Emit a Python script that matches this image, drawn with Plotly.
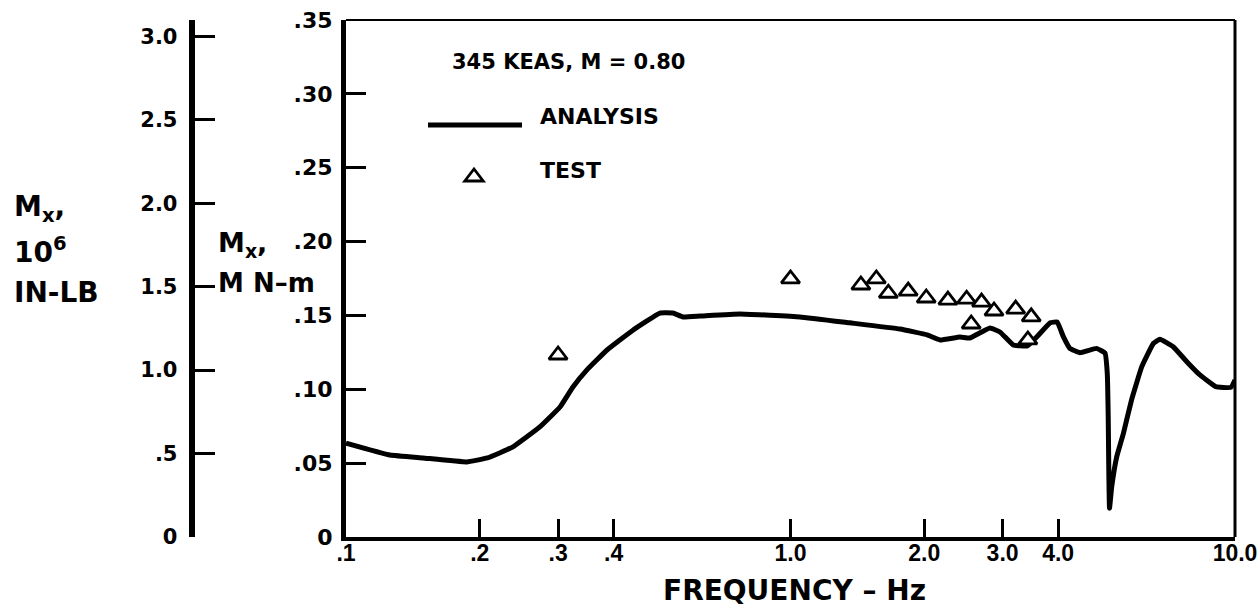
import plotly.graph_objects as go

# ---- data -------------------------------------------------------------
# Analysis: wing-root bending moment response, MN-m
freq_analysis = [0.100, 0.1256, 0.149, 0.187, 0.208, 0.2375, 0.273, 0.303, 0.324, 0.348,
                 0.3866, 0.442, 0.5086, 0.544, 0.573, 0.626, 0.77, 1.05, 1.36, 1.763,
                 2.03, 2.17, 2.405, 2.53, 2.81, 2.96, 3.17, 3.41, 3.58, 3.84,
                 3.98, 4.11, 4.25, 4.48, 4.88, 5.10, 5.16, 5.185, 5.20, 5.22,
                 5.28, 5.42, 5.61, 5.85, 6.17, 6.55, 6.78, 7.26, 7.79, 8.34,
                 9.05, 9.79, 10.0]
mx_analysis = [0.0636, 0.0555, 0.0535, 0.0508, 0.0535, 0.061, 0.0745, 0.088, 0.1016, 0.113,
               0.1266, 0.140, 0.1516, 0.1516, 0.149, 0.1496, 0.151, 0.149, 0.145, 0.1408,
               0.1368, 0.1334, 0.1354, 0.1347, 0.1415, 0.1388, 0.130, 0.1293, 0.1354, 0.145,
               0.1456, 0.1356, 0.1277, 0.1248, 0.1277, 0.1244, 0.1108, 0.0815, 0.0476, 0.0194,
               0.034, 0.0544, 0.0702, 0.0927, 0.1153, 0.131, 0.1338, 0.1288, 0.1187, 0.1097,
               0.1018, 0.1013, 0.1063]

# Test: measured bending moment, MN-m
freq_test = [0.30, 1.0, 1.44, 1.56, 1.66, 1.84, 2.02, 2.26, 2.49, 2.55, 2.69, 2.87, 3.21, 3.42, 3.48]
mx_test = [0.1232, 0.1747, 0.1706, 0.1747, 0.165, 0.1665, 0.1618, 0.1604, 0.161, 0.1442,
           0.159, 0.153, 0.1543, 0.1334, 0.149]

# axis ticks
x_ticks = [0.1, 0.2, 0.3, 0.4, 1.0, 2.0, 3.0, 4.0, 10.0]
x_ticktext = [".1", ".2", ".3", ".4", "1.0", "2.0", "3.0", "4.0", "10.0"]
y_ticks = [0, 0.05, 0.10, 0.15, 0.20, 0.25, 0.30, 0.35]
y_ticktext = ["0", ".05", ".10", ".15", ".20", ".25", ".30", ".35"]
y_max = 0.35
inlb_ticks = [0, 0.5, 1.0, 1.5, 2.0, 2.5, 3.0]
inlb_ticktext = ["0", ".5", "1.0", "1.5", "2.0", "2.5", "3.0"]
INLB_PER_MNM = 8.8507  # 10^6 in-lb per MN-m

# ---- layout geometry (pixels) -----------------------------------------
W, H = 1259, 606
ML, MR, MT, MB = 0, 24, 20, 69
PW, PH = W - ML - MR, H - MT - MB
X_AXIS_PX = 346        # main frequency axis left edge
Y2_AXIS_PX = 192       # in-lb scale position


def px(x, y):
    """pixel position -> paper coordinates"""
    return (x - ML) / PW, (H - MB - y) / PH


BOLD = "DejaVu Sans"
NUM = "Liberation Sans, Arial"

fig = go.Figure()

fig.add_trace(go.Scatter(
    x=freq_analysis, y=mx_analysis, mode="lines",
    line=dict(color="black", width=5, shape="spline", smoothing=0.3),
    showlegend=False, hoverinfo="skip"))

fig.add_trace(go.Scatter(
    x=freq_test, y=mx_test, mode="markers",
    marker=dict(symbol="triangle-up", size=16, color="white",
                line=dict(color="black", width=2.8)),
    showlegend=False, hoverinfo="skip"))

# carrier for the in-lb scale
fig.add_trace(go.Scatter(x=[], y=[], yaxis="y2", showlegend=False))

inlb_top = y_max * INLB_PER_MNM
# non-breaking space keeps the in-lb labels clear of the tick marks
inlb_labels = [t + "\u00a0" for t in inlb_ticktext]

fig.update_layout(
    width=W, height=H,
    margin=dict(l=ML, r=MR, t=MT, b=MB, pad=0),
    paper_bgcolor="white", plot_bgcolor="white",
    xaxis=dict(
        type="log", range=[-1, 1], domain=[X_AXIS_PX / PW, 1],
        tickvals=x_ticks, ticktext=x_ticktext,
        ticks="inside", ticklen=18, tickwidth=2.5, tickcolor="black",
        showline=True, linewidth=4, linecolor="black",
        showgrid=False, zeroline=False, automargin=False,
        tickfont=dict(family=NUM, size=23, color="black", weight="bold"),
        ticklabelstandoff=-8,
    ),
    yaxis=dict(
        range=[0, y_max], tickvals=y_ticks, ticktext=y_ticktext,
        ticks="inside", ticklen=20, tickwidth=3, tickcolor="black",
        showline=True, linewidth=5, linecolor="black",
        showgrid=False, zeroline=False, automargin=False,
        tickfont=dict(family=BOLD, size=22, color="black", weight="bold"),
        ticklabelstandoff=4,
    ),
    yaxis2=dict(
        overlaying="y", anchor="free", position=(Y2_AXIS_PX - ML) / PW, side="left",
        range=[0, inlb_top],
        tickvals=inlb_ticks + [inlb_top], ticktext=inlb_labels + [""],
        ticks="inside", ticklen=20, tickwidth=3, tickcolor="black",
        showline=True, linewidth=6, linecolor="black",
        showgrid=False, zeroline=False, automargin=False,
        tickfont=dict(family=BOLD, size=21, color="black", weight="bold"),
    ),
    showlegend=False,
)

# plot frame: thin top and right edges
fig.add_shape(type="line", xref="x domain", yref="y domain", x0=0, x1=1, y0=1, y1=1,
              line=dict(color="black", width=2))
fig.add_shape(type="line", xref="x domain", yref="y domain", x0=1, x1=1, y0=0, y1=1,
              line=dict(color="black", width=3))

# key
lx0, ly = px(428, 125)
lx1, _ = px(522, 125)
fig.add_shape(type="line", xref="paper", yref="paper", x0=lx0, x1=lx1, y0=ly, y1=ly,
              line=dict(color="black", width=5))
tx, ty = px(474, 177)
fig.add_shape(type="path", xref="paper", yref="paper",
              xsizemode="pixel", ysizemode="pixel", xanchor=tx, yanchor=ty,
              path="M-9.24,-4 L9.24,-4 L0,8 Z",
              fillcolor="white", line=dict(color="black", width=2.8))


def label(text, x, y, size, xanchor="left"):
    ax, ay = px(x, y)
    fig.add_annotation(text=text, x=ax, y=ay, xref="paper", yref="paper",
                       xanchor=xanchor, yanchor="middle", showarrow=False,
                       font=dict(family=BOLD, size=size, color="black", weight="bold"))


label("345 KEAS, M = 0.80", 450, 62, 21)
label("ANALYSIS", 538, 117, 22)
label("TEST", 538, 170, 22)

# axis captions
label("FREQUENCY – Hz", 794, 590, 28, xanchor="center")
label("M<sub>x</sub>,", 12, 208, 28)
label("10<sup>6</sup>", 12, 250, 28)
label("IN-LB", 12, 292, 28)
label("M<sub>x</sub>,", 216, 244, 27)
label("M N–m", 216, 283, 26)

fig.write_html("out.html")
